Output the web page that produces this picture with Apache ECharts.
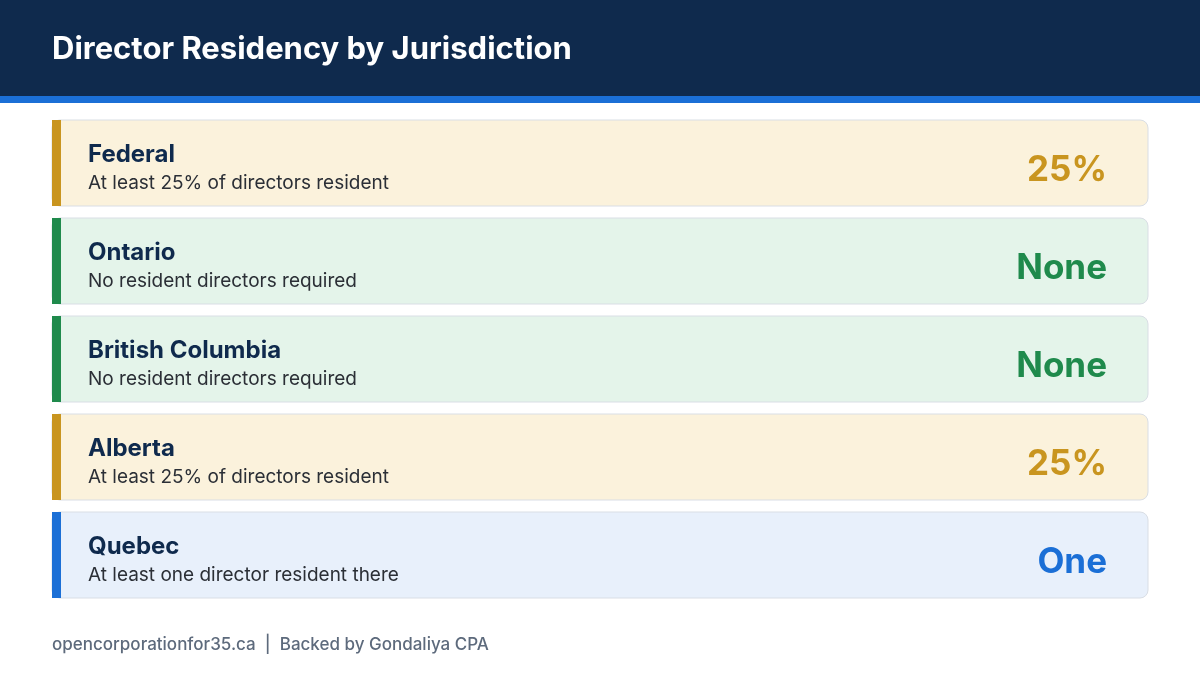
<!DOCTYPE html>
<html>
<head>
<meta charset="utf-8">
<script src="https://cdn.jsdelivr.net/npm/echarts@6/dist/echarts.min.js"></script>
<style>html,body{margin:0;padding:0;background:#fff}#chart{width:1200px;height:675px}</style>
</head>
<body>
<div id="chart"></div>
<script>
const jurisdictions = ['Federal', 'Ontario', 'British Columbia', 'Alberta', 'Quebec'];
const descriptions = [
    'At least 25% of directors resident',
    'No resident directors required',
    'No resident directors required',
    'At least 25% of directors resident',
    'At least one director resident there'
];
const requirements = ['25%', 'None', 'None', '25%', 'One'];
const kinds = ['percent', 'none', 'none', 'percent', 'one'];

// colours per requirement kind
const palette = {
    percent: { accent: '#c9951f', bg: '#fbf2dc', text: '#c9951f' },
    none: { accent: '#1f8a4c', bg: '#e4f4ea', text: '#1f8a4c' },
    one: { accent: '#1b6fd6', bg: '#e8f0fb', text: '#1b6fd6' }
};
const font = 'Inter, "Open Sans", sans-serif';

let chart = echarts.init(document.getElementById('chart'));

let data = jurisdictions.map((name, i) => [0, i, name, descriptions[i], requirements[i], kinds[i]]);

chart.setOption({
    backgroundColor: '#fff',
    grid: { left: 52, right: 52, top: 120, bottom: 65 },
    xAxis: { type: 'value', min: 0, max: 1, show: false },
    yAxis: { type: 'category', data: jurisdictions, inverse: true, show: false },
    graphic: [
        { type: 'rect', shape: { x: 0, y: 0, width: 1200, height: 96 }, style: { fill: '#0f2a4d' } },
        { type: 'rect', shape: { x: 0, y: 96, width: 1200, height: 7 }, style: { fill: '#1b6fd6' } },
        {
            type: 'text', left: 52, top: 34,
            style: { text: 'Director Residency by Jurisdiction', fill: '#fff', font: 'bold 31px ' + font }
        },
        {
            type: 'text', left: 52, top: 636,
            style: { text: 'opencorporationfor35.ca  |  Backed by Gondaliya CPA', fill: '#5d6a7c', font: '500 17px ' + font }
        }
    ],
    series: [{
        type: 'custom',
        data: data,
        renderItem: (params, api) => {
            let center = api.coord([0, api.value(1)]);
            let band = api.size([0, 1])[1];
            let x0 = params.coordSys.x;
            let w = params.coordSys.width;
            let top = center[1] - band / 2;
            let h = band - 12;
            let c = palette[data[params.dataIndex][5]];
            let d = data[params.dataIndex];
            return {
                type: 'group',
                children: [
                    { type: 'rect', shape: { x: x0, y: top, width: w, height: h, r: 8 }, style: { fill: c.bg, stroke: '#d9dee5', lineWidth: 1 } },
                    { type: 'rect', shape: { x: x0, y: top, width: 9, height: h }, style: { fill: c.accent } },
                    { type: 'text', style: { x: 88, y: top + 35, text: d[2], fill: '#0f2a4d', font: 'bold 24px ' + font, verticalAlign: 'middle' } },
                    { type: 'text', style: { x: 88, y: top + 63, text: d[3], fill: '#2b2f36', font: '19px ' + font, verticalAlign: 'middle' } },
                    { type: 'text', style: { x: 1107, y: top + 50, text: d[4], fill: c.text, font: 'bold 35px ' + font, align: 'right', verticalAlign: 'middle' } }
                ]
            };
        }
    }]
});
</script>
</body>
</html>
